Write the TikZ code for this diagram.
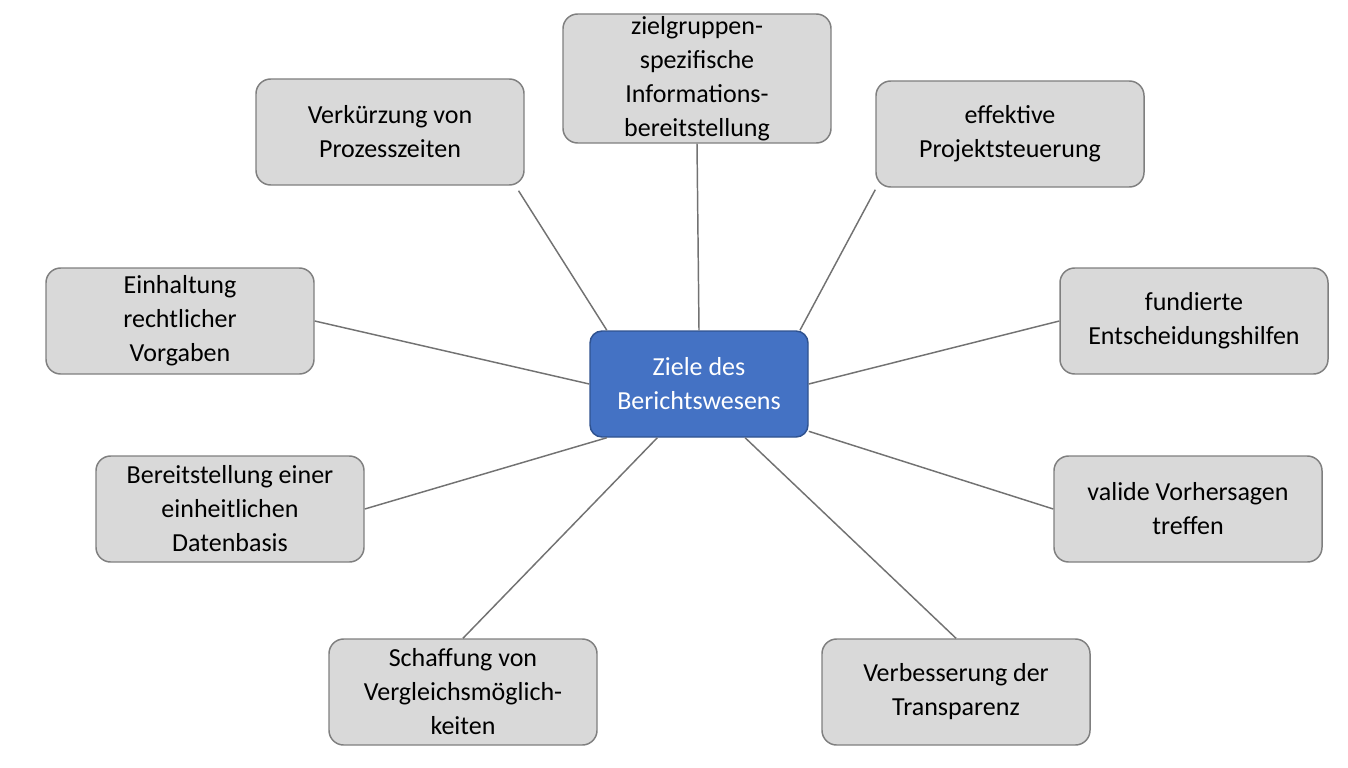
\documentclass[tikz,border=0pt]{standalone}
\usepackage{fontspec}
\setmainfont{Carlito}
\usetikzlibrary{calc}
\definecolor{boxfill}{HTML}{D9D9D9}
\definecolor{boxdraw}{HTML}{7F7F7F}
\definecolor{cfill}{HTML}{4472C4}
\definecolor{cdraw}{HTML}{2F528F}
\tikzset{
  goal/.style={draw=boxdraw, fill=boxfill, line width=1.1pt, rounded corners=11pt,
    minimum width=201pt, minimum height=79.5pt, align=center, inner sep=0pt,
    font=\fontsize{19.5}{25.5}\selectfont},
  hub/.style={goal, draw=cdraw, fill=cfill, text=white, minimum width=163.5pt, minimum height=79.5pt, rounded corners=9pt},
  link/.style={draw=boxdraw!90!black, line width=1.1pt}
}
\begin{document}
\begin{tikzpicture}[x=0.75pt,y=-0.75pt]
\useasboundingbox (0,0) rectangle (1348,767);
\node[hub] (c) at (699,384) {Ziele des\\Berichtswesens};
\node[goal] (v) at (390,132) {Verkürzung von\\Prozesszeiten};
\node[goal, minimum height=96.75pt] (z) at (697,78.5) {zielgruppen-\\spezifische\\Informations-\\bereitstellung};
\node[goal] (e) at (1010,134) {effektive\\Projektsteuerung};
\node[goal] (f) at (1194,321) {fundierte\\Entscheidungshilfen};
\node[goal] (va) at (1188,509) {valide Vorhersagen\\treffen};
\node[goal] (vb) at (956,692) {Verbesserung der\\Transparenz};
\node[goal] (s) at (463,692) {Schaffung von\\Vergleichsmöglich-\\keiten};
\node[goal] (b) at (230,509) {Bereitstellung einer\\einheitlichen\\Datenbasis};
\node[goal] (ei) at (180,321) {Einhaltung\\rechtlicher\\Vorgaben};
\draw[link] ($(v.south west)!0.977!(v.south east)+(0,5)$) -- ($(c.north west)!0.08!(c.north east)$);
\draw[link] (z.south) -- (c.north);
\draw[link] ($(e.south west)+(0,2)$) -- ($(c.north west)!0.96!(c.north east)$);
\draw[link] (f.west) -- (c.east);
\draw[link] (va.west) -- ($(c.south east)!0.06!(c.north east)$);
\draw[link] (vb.north) -- ($(c.south west)!0.71!(c.south east)$);
\draw[link] (s.north) -- ($(c.south west)!0.31!(c.south east)$);
\draw[link] (b.east) -- ($(c.south west)!0.08!(c.south east)$);
\draw[link] (ei.east) -- (c.west);
\end{tikzpicture}
\end{document}
